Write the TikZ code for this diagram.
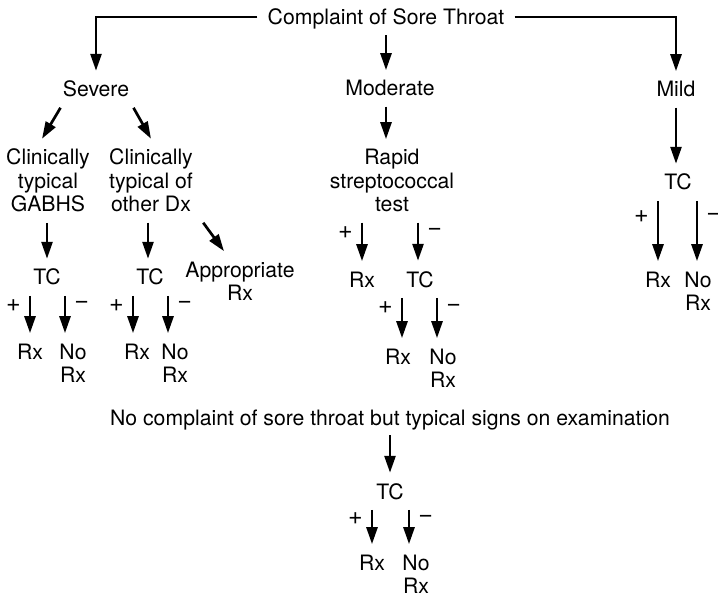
\documentclass[tikz,border=0pt]{standalone}
\usepackage{fontspec}
\setmainfont{TeX Gyre Heros}
\usetikzlibrary{arrows.meta}
\begin{document}
\begin{tikzpicture}[x=0.5pt,y=-0.5pt,
    every node/.style={font=\fontsize{10.6pt}{11.75pt}\selectfont, inner sep=5pt, anchor=base, align=center},
    sign/.style={font=\fontsize{12.5pt}{14pt}\selectfont, inner sep=4pt, pos=.15, yshift=-2pt},
    arr/.style={line width=1.35pt, -{Triangle[length=8.5pt,width=5.5pt]}}]
    \useasboundingbox (0,0) rectangle (718,599);
    \node[text depth=0pt] (title) at (386,25) {Complaint of Sore Throat};
    \node (sev) at (96,97) {Severe};
    \node (mod) at (390,96) {Moderate};
    \node (mild) at (676,97) {Mild};
    \node (gab) at (48,212) {Clinically\\typical\\GABHS};
    \node (oth) at (151,212) {Clinically\\typical of\\other Dx};
    \node (rap) at (392,212) {Rapid\\streptococcal\\test};
    \node (tcM) at (678,190) {TC};
    \node (tcA) at (47,285) {TC};
    \node (tcB) at (150,285) {TC};
    \node (app) at (240,300.5) {Appropriate\\Rx};
    \node (rxR1) at (362,287) {Rx};
    \node (tcR) at (420,287) {TC};
    \node (rxM) at (658,287) {Rx};
    \node (noM) at (698,310.5) {No\\Rx};
    \node (rxA) at (30,359) {Rx};
    \node (noA) at (73,382.5) {No\\Rx};
    \node (rxB) at (137,359) {Rx};
    \node (noB) at (175,382.5) {No\\Rx};
    \node (rxR) at (398,364) {Rx};
    \node (noR) at (443,387.5) {No\\Rx};
    \node[text depth=0pt] (nt) at (390,425) {No complaint of sore throat but typical signs on examination};
    \node (tcN) at (390,499) {TC};
    \node (rxN) at (372,570) {Rx};
    \node (noN) at (416,593.5) {No\\Rx};

    \draw[arr] (title.west) -| (sev.north);
    \draw[arr] (title.east) -| (mild.north);
    \draw[arr] (title.south) -- (title.south |- mod.north);
    \draw[arr] ([xshift=4pt]sev.south west) -- ([xshift=-3pt]gab.north);
    \draw[arr] ([xshift=-3pt]sev.south east) -- (oth.north);
    \draw[arr] (tcA.north |- gab.south) -- (tcA.north);
    \draw[arr] ([xshift=-1pt]tcB.north |- oth.south) -- ([xshift=-1pt]tcB.north);
    \draw[arr] (oth.south east) -- ([xshift=-8pt]app.north);
    \draw[arr] (title.south |- mod.south) -- (title.south |- rap.north);
    \draw[arr] (rxR1.north |- rap.south) -- node[sign,left] {+} (rxR1.north);
    \draw[arr] ([xshift=-1pt]tcR.north |- rap.south) -- node[sign,right] {−} ([xshift=-1pt]tcR.north);
    \draw[arr] (mild.south) -- (mild.south |- tcM.north);
    \draw[arr] (tcA.south -| rxA.north) -- node[sign,left] {+} (rxA.north);
    \draw[arr] ([xshift=-4pt]tcA.south -| noA.north) -- node[sign,right] {−} ([xshift=-4pt]noA.north);
    \draw[arr] ([xshift=-2pt]tcB.south -| rxB.north) -- node[sign,left] {+} ([xshift=-2pt]rxB.north);
    \draw[arr] ([xshift=-3.5pt]tcB.south -| noB.north) -- node[sign,right] {−} ([xshift=-3.5pt]noB.north);
    \draw[arr] ([xshift=2pt]tcR.south -| rxR.north) -- node[sign,left] {+} ([xshift=2pt]rxR.north);
    \draw[arr] ([xshift=-3pt]tcR.south -| noR.north) -- node[sign,right] {−} ([xshift=-3pt]noR.north);
    \draw[arr] (tcM.south -| rxM.north) -- node[sign,left,pos=.2] {+} (rxM.north);
    \draw[arr] ([xshift=-0.5pt]tcM.south -| noM.north) -- node[sign,right,pos=.2] {−} ([xshift=-0.5pt]noM.north);
    \draw[arr] (nt.south -| tcN.north) -- (tcN.north);
    \draw[arr] (tcN.south -| rxN.north) -- node[sign,left] {+} (rxN.north);
    \draw[arr] ([xshift=-3.5pt]tcN.south -| noN.north) -- node[sign,right] {−} ([xshift=-3.5pt]noN.north);
\end{tikzpicture}
\end{document}
